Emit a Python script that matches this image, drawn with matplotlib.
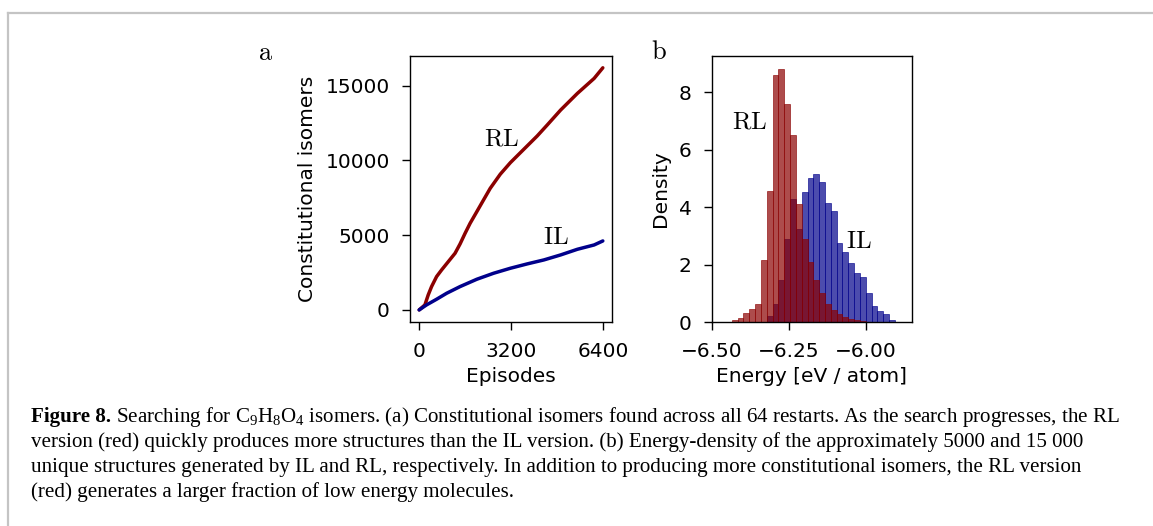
import numpy as np
import matplotlib
matplotlib.use("Agg")
import matplotlib.pyplot as plt
from matplotlib.lines import Line2D
from matplotlib.ticker import FuncFormatter

# ---------------- data ----------------
episodes_rl = [0, 199, 315, 432, 607, 782, 1016, 1250, 1425, 1600, 1775, 2009,
               2242, 2476, 2826, 3177, 3527, 4111, 4461, 4929, 5513, 6097, 6400]
isomers_rl = [0, 334, 1003, 1560, 2229, 2675, 3232, 3789, 4413, 5126, 5795, 6575,
              7355, 8135, 9080, 9851, 10520, 11634, 12370, 13373, 14487, 15490, 16200]
episodes_il = [0, 257, 607, 958, 1425, 2009, 2593, 3177, 3761, 4345, 4929, 5513, 6097, 6400]
isomers_il = [0, 334, 713, 1114, 1560, 2051, 2452, 2786, 3076, 3343, 3678, 4056, 4346, 4614]

energy_bin_start = -6.4347
energy_bin_width = 0.0189
density_rl = [0.06, 0.14, 0.31, 0.44, 0.63, 2.15, 4.57, 8.62, 8.81, 7.58, 6.52, 4.10,
              2.88, 2.10, 1.47, 1.02, 0.63, 0.42, 0.27, 0.19, 0.10, 0.07, 0.03]
density_il = [0, 0, 0, 0, 0, 0, 0.21, 0.62, 1.47, 2.88, 4.28, 3.25, 4.52, 5.01, 5.15,
              4.89, 4.14, 3.87, 2.74, 2.45, 2.07, 1.70, 1.56, 1.00, 0.57, 0.39, 0.27, 0.07]

xticks_a = [0, 3200, 6400]
yticks_a = [0, 5000, 10000, 15000]
xticks_b = [-6.50, -6.25, -6.00]
yticks_b = [0, 2, 4, 6, 8]

caption_bold = "Figure 8."
caption_lines = [
    r" Searching for C$_9$H$_8$O$_4$ isomers. (a) Constitutional isomers found across all 64 restarts. As the search progresses, the RL",
    "version (red) quickly produces more structures than the IL version. (b) Energy-density of the approximately 5000 and 15 000",
    "unique structures generated by IL and RL, respectively. In addition to producing more constitutional isomers, the RL version",
    "(red) generates a larger fraction of low energy molecules.",
]

# ---------------- style ----------------
plt.rcParams["font.family"] = ["DejaVu Sans"]
plt.rcParams["mathtext.fontset"] = "custom"
plt.rcParams["mathtext.rm"] = "Liberation Serif"
plt.rcParams["mathtext.it"] = "Liberation Serif:italic"
plt.rcParams["mathtext.bf"] = "Liberation Serif:bold"

W, H = 1153, 526
fig = plt.figure(figsize=(W / 100, H / 100), dpi=100)

def px_axes(l, r, t, b):
    return fig.add_axes([l / W, 1 - b / H, (r - l) / W, (b - t) / H])

fs = 14.5
RED = "darkred"
BLUE = "darkblue"

def style_axes(ax):
    for s in ax.spines.values():
        s.set_linewidth(1.0)
    ax.tick_params(direction="out", length=6, width=1.0, labelsize=fs, pad=8.5,
                   top=False, right=False)

# ---------------- panel a ----------------
axa = px_axes(410, 612, 55.7, 322)
axa.plot(episodes_rl, isomers_rl, color=RED, lw=2.5, solid_capstyle="round")
axa.plot(episodes_il, isomers_il, color=BLUE, lw=2.5, solid_capstyle="round")
axa.set_xlim(-320, 6720)
axa.set_ylim(-810, 17010)
axa.set_xticks(xticks_a)
axa.set_yticks(yticks_a)
style_axes(axa)
axa.set_xlabel("Episodes", fontsize=fs, labelpad=4)
axa.set_ylabel("Constitutional isomers", fontsize=fs, labelpad=6)
axa.text(2882, 11482, r"$\mathrm{RL}$", fontsize=18, math_fontfamily="cm",
         ha="center", va="center")
axa.text(4746, 4902, r"$\mathrm{IL}$", fontsize=18, math_fontfamily="cm",
         ha="center", va="center")

# ---------------- panel b ----------------
axb = px_axes(711.7, 912.3, 55.7, 322)
left_il = energy_bin_start + energy_bin_width * np.arange(len(density_il))
left_rl = energy_bin_start + energy_bin_width * np.arange(len(density_rl))
axb.bar(left_il, density_il, width=energy_bin_width, align="edge", color=BLUE,
        alpha=0.7, edgecolor=BLUE, linewidth=0.6)
axb.bar(left_rl, density_rl, width=energy_bin_width, align="edge", color=RED,
        alpha=0.7, edgecolor=RED, linewidth=0.6)
axb.set_xlim(-6.5, -5.849)
axb.set_ylim(0, 9.28)
axb.set_xticks(xticks_b)
axb.set_yticks(yticks_b)
axb.xaxis.set_major_formatter(FuncFormatter(lambda v, p: f"{v:.2f}".replace("-", "\u2212")))
style_axes(axb)
axb.set_xlabel("Energy [eV / atom]", fontsize=fs, labelpad=4)
axb.set_ylabel("Density", fontsize=fs, labelpad=6)
axb.text(-6.3757, 6.99, r"$\mathrm{RL}$", fontsize=18, math_fontfamily="cm",
         ha="center", va="center")
axb.text(-6.0218, 2.83, r"$\mathrm{IL}$", fontsize=18, math_fontfamily="cm",
         ha="center", va="center")

# panel letters
fig.text(266 / W, 1 - 53 / H, r"$\mathrm{a}$", fontsize=19, math_fontfamily="cm",
         ha="center", va="center")
fig.text(659 / W, 1 - 52 / H, r"$\mathrm{b}$", fontsize=19, math_fontfamily="cm",
         ha="center", va="center")

# page frame
fig.add_artist(Line2D([8 / W, 1.0], [1 - 13 / H, 1 - 13 / H], color="#c4c4c4", lw=1.6))
fig.add_artist(Line2D([8 / W, 8 / W], [0, 1 - 13 / H], color="#c4c4c4", lw=1.6))

# caption
baselines = [422, 447, 472, 497]
renderer = fig.canvas.get_renderer()
cap_fs = 12.0
x0 = 31
tb = fig.text(x0 / W, 1 - baselines[0] / H, caption_bold, fontsize=cap_fs,
              family="Liberation Serif", weight="bold", ha="left", va="baseline")
t0 = fig.text(0, 1 - baselines[0] / H, caption_lines[0], fontsize=cap_fs,
              family="Liberation Serif", ha="left", va="baseline")
wb = tb.get_window_extent(renderer).width
w0 = t0.get_window_extent(renderer).width
scale = 1090 / (wb + w0)
cap_fs *= scale
tb.set_fontsize(cap_fs)
t0.set_fontsize(cap_fs)
wb = tb.get_window_extent(renderer).width
t0.set_x((x0 + wb) / W)
for line, yb in zip(caption_lines[1:], baselines[1:]):
    fig.text(x0 / W, 1 - yb / H, line, fontsize=cap_fs,
             family="Liberation Serif", ha="left", va="baseline")

fig.savefig("out.png", dpi=100)
